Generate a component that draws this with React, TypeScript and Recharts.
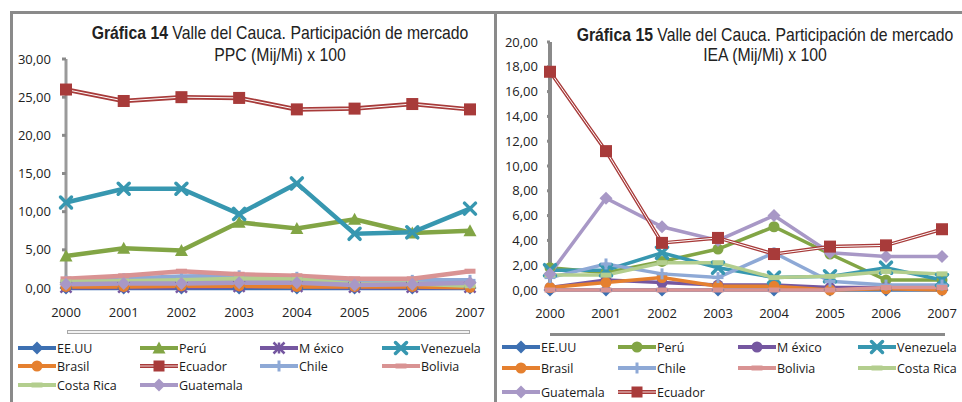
import React from 'react';
import { LineChart, Line, XAxis, YAxis, Legend } from 'recharts';

// ---------- data ----------
const years = ['2000', '2001', '2002', '2003', '2004', '2005', '2006', '2007'];

// Gráfica 14 — PPC (Mij/Mi) x 100
const ppcEEUU = [0.0, 0.0, 0.0, 0.0, 0.0, 0.0, 0.0, 0.0];
const ppcPeru = [4.2, 5.2, 4.9, 8.6, 7.8, 9.0, 7.2, 7.5];
const ppcMexico = [0.1, 0.1, 0.1, 0.2, 0.2, 0.1, 0.1, 0.1];
const ppcVenezuela = [11.2, 13.0, 13.0, 9.7, 13.7, 7.1, 7.3, 10.4];
const ppcBrasil = [0.2, 0.2, 0.3, 0.3, 0.2, 0.2, 0.2, 0.1];
const ppcEcuador = [26.0, 24.5, 25.0, 24.9, 23.4, 23.5, 24.1, 23.4];
const ppcChile = [0.9, 1.2, 1.5, 1.6, 1.4, 0.7, 1.0, 1.0];
const ppcBolivia = [1.2, 1.6, 2.2, 1.8, 1.6, 1.2, 1.2, 2.2];
const ppcCostaRica = [0.8, 0.9, 1.0, 1.2, 1.1, 0.5, 0.6, 0.3];
const ppcGuatemala = [0.5, 0.6, 0.6, 0.7, 0.7, 0.4, 0.5, 0.7];

// Gráfica 15 — IEA (Mij/Mi) x 100
const ieaEEUU = [0.0, 0.0, 0.0, 0.0, 0.0, 0.0, 0.0, 0.0];
const ieaPeru = [1.8, 1.4, 2.3, 3.3, 5.1, 2.9, 0.8, 0.8];
const ieaMexico = [0.2, 0.8, 0.6, 0.4, 0.4, 0.2, 0.2, 0.1];
const ieaVenezuela = [1.6, 1.6, 3.0, 1.8, 1.0, 1.1, 1.8, 0.8];
const ieaBrasil = [0.2, 0.6, 1.0, 0.3, 0.3, 0.0, 0.1, 0.0];
const ieaChile = [1.0, 2.1, 1.3, 1.0, 3.0, 0.7, 0.4, 0.4];
const ieaBolivia = [0.0, 0.0, 0.0, 0.0, 0.0, 0.0, 0.2, 0.2];
const ieaCostaRica = [1.2, 1.2, 2.2, 2.2, 1.0, 1.1, 1.5, 1.3];
const ieaGuatemala = [1.3, 7.4, 5.1, 4.0, 6.0, 3.0, 2.7, 2.7];
const ieaEcuador = [17.6, 11.2, 3.8, 4.2, 2.9, 3.5, 3.6, 4.9];

const ppcTicks = [0, 5, 10, 15, 20, 25, 30];
const ieaTicks = [0, 2, 4, 6, 8, 10, 12, 14, 16, 18, 20];

// ---------- series styles ----------
const C = {
  EEUU: '#3D70B2',
  Peru: '#82A545',
  Mexico: '#7557A0',
  Venezuela: '#3797B0',
  Brasil: '#E5802F',
  Ecuador: '#A83B3A',
  Chile: '#8EA9D6',
  Bolivia: '#D99393',
  CostaRica: '#B3CE8E',
  Guatemala: '#A898C6',
};

type S = { key: string; name: string; color: string; marker: string; values: number[]; double?: boolean };

const ppcSeries: S[] = [
  { key: 'EEUU', name: 'EE.UU', color: C.EEUU, marker: 'diamond', values: ppcEEUU },
  { key: 'Peru', name: 'Perú', color: C.Peru, marker: 'triangle', values: ppcPeru },
  { key: 'Mexico', name: 'M éxico', color: C.Mexico, marker: 'star', values: ppcMexico },
  { key: 'Venezuela', name: 'Venezuela', color: C.Venezuela, marker: 'x', values: ppcVenezuela },
  { key: 'Brasil', name: 'Brasil', color: C.Brasil, marker: 'circle', values: ppcBrasil },
  { key: 'Ecuador', name: 'Ecuador', color: C.Ecuador, marker: 'square', values: ppcEcuador, double: true },
  { key: 'Chile', name: 'Chile', color: C.Chile, marker: 'plus', values: ppcChile },
  { key: 'Bolivia', name: 'Bolivia', color: C.Bolivia, marker: 'dash', values: ppcBolivia },
  { key: 'CostaRica', name: 'Costa Rica', color: C.CostaRica, marker: 'dash', values: ppcCostaRica },
  { key: 'Guatemala', name: 'Guatemala', color: C.Guatemala, marker: 'diamond', values: ppcGuatemala },
];

const ieaSeries: S[] = [
  { key: 'EEUU', name: 'EE.UU', color: C.EEUU, marker: 'diamond', values: ieaEEUU },
  { key: 'Peru', name: 'Perú', color: C.Peru, marker: 'circle', values: ieaPeru },
  { key: 'Mexico', name: 'M éxico', color: C.Mexico, marker: 'circle', values: ieaMexico },
  { key: 'Venezuela', name: 'Venezuela', color: C.Venezuela, marker: 'x', values: ieaVenezuela },
  { key: 'Brasil', name: 'Brasil', color: C.Brasil, marker: 'circle', values: ieaBrasil },
  { key: 'Chile', name: 'Chile', color: C.Chile, marker: 'plus', values: ieaChile },
  { key: 'Bolivia', name: 'Bolivia', color: C.Bolivia, marker: 'dash', values: ieaBolivia },
  { key: 'CostaRica', name: 'Costa Rica', color: C.CostaRica, marker: 'dash', values: ieaCostaRica },
  { key: 'Guatemala', name: 'Guatemala', color: C.Guatemala, marker: 'diamond', values: ieaGuatemala },
  { key: 'Ecuador', name: 'Ecuador', color: C.Ecuador, marker: 'square', values: ieaEcuador, double: true },
];

const buildRows = (series: S[]) =>
  years.map((y, i) => {
    const row: Record<string, any> = { year: y };
    series.forEach((s) => (row[s.key] = s.values[i]));
    return row;
  });

const fmt = (v: number) => v.toFixed(2).replace('.', ',');

// ---------- markers ----------
const Marker = ({ cx, cy, shape, color, size = 10 }: any) => {
  if (cx == null || cy == null) return null;
  const h = size / 2;
  switch (shape) {
    case 'square':
      return <rect x={cx - h} y={cy - h} width={size} height={size} fill={color} />;
    case 'diamond':
      return <polygon points={`${cx},${cy - h - 1} ${cx + h + 1},${cy} ${cx},${cy + h + 1} ${cx - h - 1},${cy}`} fill={color} />;
    case 'triangle':
      return <polygon points={`${cx},${cy - h - 1} ${cx + h + 1},${cy + h} ${cx - h - 1},${cy + h}`} fill={color} />;
    case 'circle':
      return <circle cx={cx} cy={cy} r={h} fill={color} />;
    case 'x':
      return (
        <g stroke={color} strokeWidth={3.5} strokeLinecap="round">
          <line x1={cx - h} y1={cy - h} x2={cx + h} y2={cy + h} />
          <line x1={cx - h} y1={cy + h} x2={cx + h} y2={cy - h} />
        </g>
      );
    case 'star':
      return (
        <g stroke={color} strokeWidth={2.5}>
          <line x1={cx - h} y1={cy - h} x2={cx + h} y2={cy + h} />
          <line x1={cx - h} y1={cy + h} x2={cx + h} y2={cy - h} />
          <line x1={cx} y1={cy - h} x2={cx} y2={cy + h} />
        </g>
      );
    case 'plus':
      return (
        <g stroke={color} strokeWidth={3}>
          <line x1={cx - h} y1={cy} x2={cx + h} y2={cy} />
          <line x1={cx} y1={cy - h} x2={cx} y2={cy + h} />
        </g>
      );
    case 'dash':
      return <rect x={cx - h} y={cy - 2.5} width={size} height={5} fill={color} />;
    default:
      return null;
  }
};

// ---------- legend ----------
const makeLegend = (series: S[], colX: number[], rowY: number[]) => () => (
  <div style={{ position: 'relative', width: 480, height: 70 }}>
    {series.map((s, i) => {
      const x = colX[i % 4];
      const y = rowY[Math.floor(i / 4)];
      return (
        <div key={s.key} style={{ position: 'absolute', left: x, top: y - 9, height: 18, display: 'flex', alignItems: 'center', whiteSpace: 'nowrap' }}>
          <svg width={38} height={18} style={{ display: 'block' }}>
            <line x1={0} y1={9} x2={38} y2={9} stroke={s.color} strokeWidth={4} />
            {s.double && <line x1={0} y1={9} x2={38} y2={9} stroke="#fff" strokeWidth={0.8} />}
            <Marker cx={19} cy={9} shape={s.marker} color={s.color} size={11} />
          </svg>
          <span style={{ fontFamily: 'Open Sans, sans-serif', fontSize: 12.5, color: '#1a1a1a', marginLeft: 1 }}>{s.name}</span>
        </div>
      );
    })}
  </div>
);

const renderSeries = (series: S[], lineW: number) => {
  const out: any[] = [];
  series.forEach((s) => {
    out.push(
      <Line
        key={s.key}
        dataKey={s.key}
        name={s.name}
        stroke={s.color}
        strokeWidth={lineW}
        isAnimationActive={false}
        dot={s.double ? false : (p: any) => <Marker key={`${s.key}-${p.index}`} cx={p.cx} cy={p.cy} shape={s.marker} color={s.color} size={11} />}
        activeDot={false}
      />
    );
    if (s.double) {
      out.push(
        <Line key={s.key + '-w'} dataKey={s.key} stroke="#fff" strokeWidth={1} dot={false} activeDot={false} legendType="none" isAnimationActive={false} />
      );
      out.push(
        <Line
          key={s.key + '-m'}
          dataKey={s.key}
          stroke="none"
          legendType="none"
          isAnimationActive={false}
          activeDot={false}
          dot={(p: any) => <Marker key={`${s.key}-m-${p.index}`} cx={p.cx} cy={p.cy} shape={s.marker} color={s.color} size={12} />}
        />
      );
    }
  });
  return out;
};

const tickStyle = { fontFamily: 'Open Sans, sans-serif', fontSize: 13, fill: '#222' };
const titleFont = "'Liberation Sans', Arial, sans-serif";

const Title = ({ cx, top, lh, bold, rest, line2 }: any) => (
  <div
    style={{
      position: 'absolute',
      left: cx - 300,
      top,
      width: 600,
      textAlign: 'center',
      fontFamily: titleFont,
      fontSize: 19,
      lineHeight: lh + 'px',
      color: '#222',
      transform: 'scaleX(0.83)',
      transformOrigin: '50% 50%',
      whiteSpace: 'nowrap',
    }}
  >
    <b>{bold}</b> {rest}
    <br />
    {line2}
  </div>
);

export default function App() {
  const ppcRows = buildRows(ppcSeries);
  const ieaRows = buildRows(ieaSeries);
  return (
    <div style={{ position: 'absolute', left: 0, top: 0, width: 962, height: 402, background: '#fff', overflow: 'hidden' }}>
      {/* frames */}
      <div style={{ position: 'absolute', left: 10, top: 11, width: 3, height: 391, background: '#8a8a8a' }} />
      <div style={{ position: 'absolute', left: 10, top: 11, width: 952, height: 3, background: '#8a8a8a' }} />
      <div style={{ position: 'absolute', left: 494, top: 11, width: 3, height: 391, background: '#8a8a8a' }} />

      {/* left chart */}
      <div style={{ position: 'absolute', left: 0, top: 0, width: 490, height: 402 }}>
        <LineChart width={490} height={402} data={ppcRows} margin={{ top: 59, right: 20, bottom: 84, left: 0 }}>
          <XAxis dataKey="year" axisLine={false} tickLine={false} tickSize={0} tickMargin={20} height={30} tick={tickStyle} interval={0} />
          <YAxis
            domain={[0, 30]}
            ticks={ppcTicks}
            width={66}
            tickFormatter={fmt}
            tick={tickStyle}
            axisLine={{ stroke: '#9a9a9a', strokeWidth: 3 }}
            tickLine={{ stroke: '#8a8a8a', strokeWidth: 3 }}
            tickSize={4}
            tickMargin={11}
            interval={0}
          />
          {renderSeries(ppcSeries, 4.5)}
          <Legend
            layout="vertical"
            align="center"
            verticalAlign="middle"
            wrapperStyle={{ left: 0, top: 339, width: 490 }}
            content={makeLegend(ppcSeries, [18, 140, 260, 382], [9, 27, 46])}
          />
        </LineChart>
      </div>
      <div style={{ position: 'absolute', left: 67, top: 330, width: 401, height: 2, border: '1px solid #a8a8a8', background: '#f2f2f2' }} />
      <Title cx={280} top={22} lh={22} bold="Gráfica 14" rest="Valle del Cauca. Participación de mercado" line2="PPC (Mij/Mi) x 100" />

      {/* right chart */}
      <div style={{ position: 'absolute', left: 490, top: 0, width: 472, height: 402 }}>
        <LineChart width={472} height={402} data={ieaRows} margin={{ top: 42, right: 20, bottom: 82, left: 0 }}>
          <XAxis dataKey="year" axisLine={false} tickLine={false} tickSize={0} tickMargin={19} height={30} tick={tickStyle} interval={0} />
          <YAxis
            domain={[0, 20]}
            ticks={ieaTicks}
            width={60}
            tickFormatter={fmt}
            tick={tickStyle}
            axisLine={{ stroke: '#8a8a8a', strokeWidth: 4 }}
            tickLine={{ stroke: '#8a8a8a', strokeWidth: 3 }}
            tickSize={3}
            tickMargin={9}
            interval={0}
          />
          {renderSeries(ieaSeries, 3.5)}
          <Legend
            layout="vertical"
            align="center"
            verticalAlign="middle"
            wrapperStyle={{ left: 0, top: 338, width: 472 }}
            content={makeLegend(ieaSeries, [12, 128, 248, 368], [9, 30, 54])}
          />
        </LineChart>
      </div>
      <div style={{ position: 'absolute', left: 550, top: 333, width: 395, height: 3, background: '#8a8a8a' }} />
      <Title cx={765} top={25} lh={20} bold="Gráfica 15" rest="Valle del Cauca. Participación de mercado" line2="IEA (Mij/Mi) x 100" />
    </div>
  );
}
